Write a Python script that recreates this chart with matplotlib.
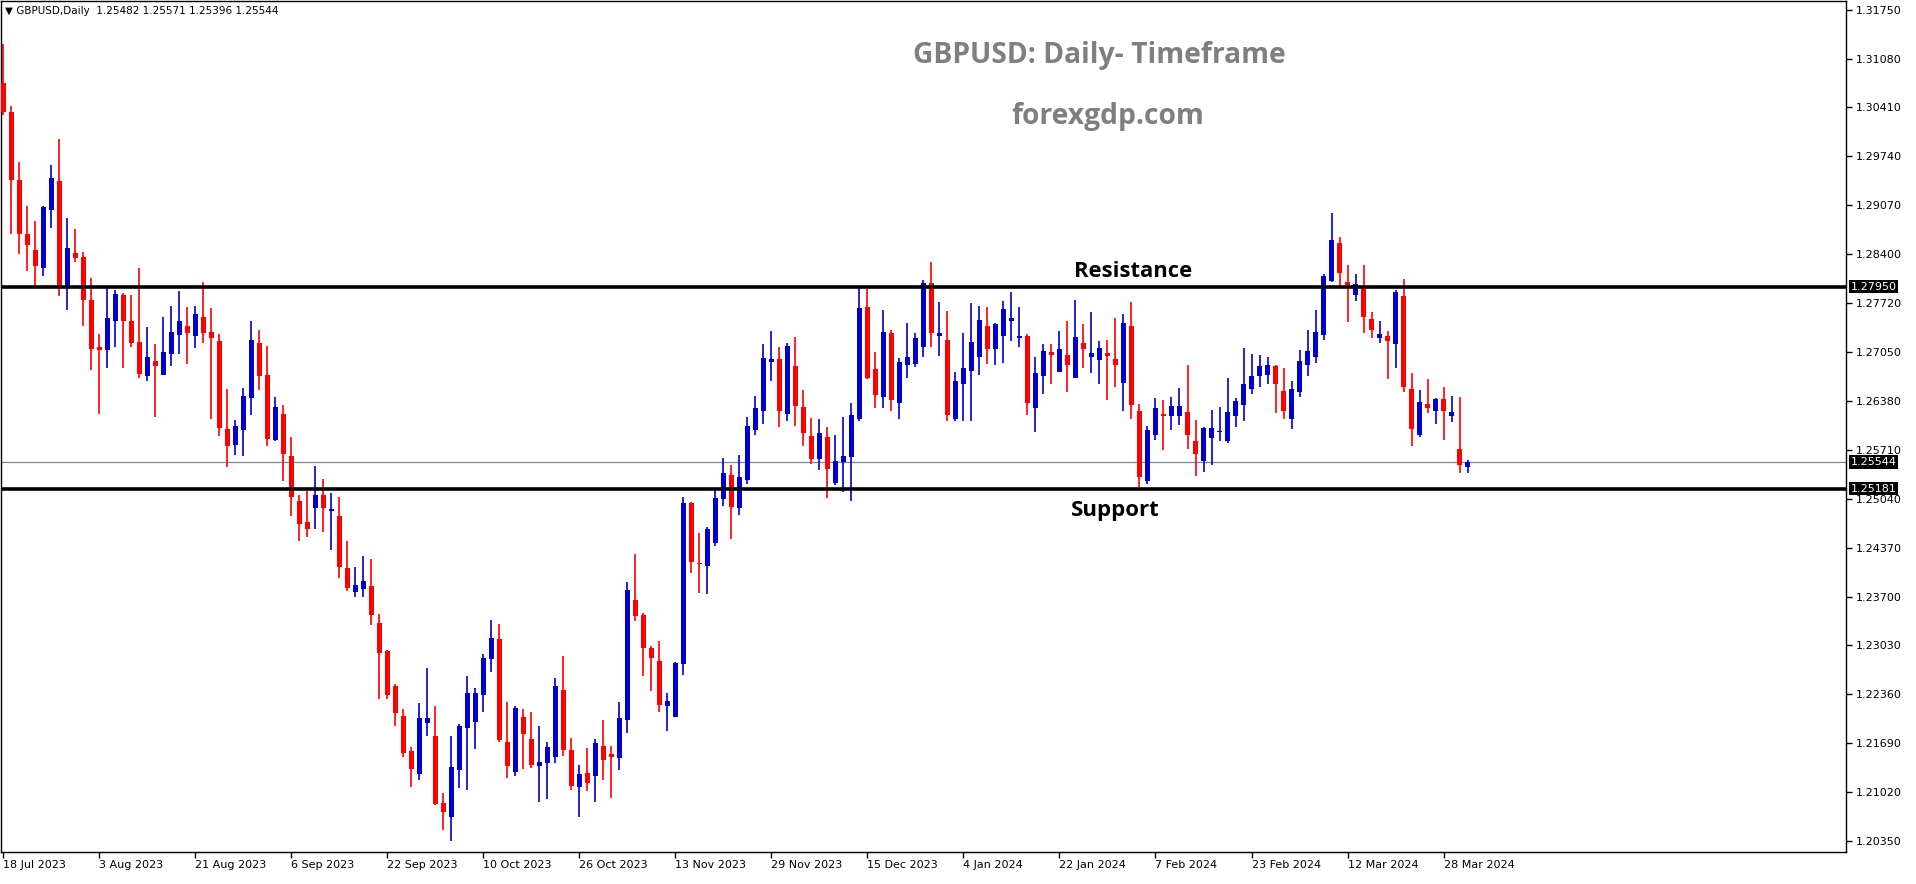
import numpy as np
import matplotlib.pyplot as plt

# --- GBPUSD daily candles (bar 0 = 18 Jul 2023) ---
opens = [1.3075, 1.3035, 1.2941, 1.2867, 1.2845, 1.2821, 1.2900, 1.2940, 1.2796, 1.2841,
         1.2836, 1.2777, 1.2712, 1.2708, 1.2748, 1.2784, 1.2748, 1.2719, 1.2672, 1.2693,
         1.2674, 1.2703, 1.2729, 1.2741, 1.2728, 1.2754, 1.2733, 1.2721, 1.2600, 1.2578,
         1.2598, 1.2642, 1.2718, 1.2674, 1.2585, 1.2621, 1.2563, 1.2501, 1.2472, 1.2491,
         1.2509, 1.2487, 1.2481, 1.2409, 1.2376, 1.2380, 1.2385, 1.2334, 1.2295, 1.2247,
         1.2206, 1.2158, 1.2126, 1.2196, 1.2179, 1.2087, 1.2067, 1.2132, 1.2189, 1.2198,
         1.2235, 1.2284, 1.2312, 1.2170, 1.2129, 1.2205, 1.2175, 1.2137, 1.2142, 1.2150,
         1.2242, 1.2159, 1.2109, 1.2128, 1.2124, 1.2165, 1.2154, 1.2149, 1.2200, 1.2365,
         1.2345, 1.2300, 1.2281, 1.2220, 1.2205, 1.2278, 1.2498, 1.2416, 1.2412, 1.2443,
         1.2504, 1.2537, 1.2491, 1.2530, 1.2598, 1.2625, 1.2692, 1.2696, 1.2621, 1.2686,
         1.2630, 1.2590, 1.2558, 1.2589, 1.2526, 1.2554, 1.2562, 1.2614, 1.2767, 1.2682,
         1.2644, 1.2732, 1.2636, 1.2688, 1.2689, 1.2713, 1.2800, 1.2727, 1.2722, 1.2614,
         1.2662, 1.2680, 1.2698, 1.2741, 1.2709, 1.2727, 1.2748, 1.2725, 1.2728, 1.2628,
         1.2672, 1.2706, 1.2678, 1.2701, 1.2670, 1.2718, 1.2698, 1.2695, 1.2704, 1.2696,
         1.2663, 1.2741, 1.2624, 1.2528, 1.2592, 1.2620, 1.2617, 1.2617, 1.2623, 1.2583,
         1.2556, 1.2588, 1.2596, 1.2584, 1.2617, 1.2633, 1.2655, 1.2673, 1.2674, 1.2686,
         1.2652, 1.2613, 1.2650, 1.2687, 1.2698, 1.2729, 1.2803, 1.2855, 1.2802, 1.2783,
         1.2795, 1.2751, 1.2725, 1.2727, 1.2717, 1.2782, 1.2655, 1.2591, 1.2634, 1.2624,
         1.2641, 1.2618, 1.2572, 1.25482]
highs = [1.3128, 1.3043, 1.2966, 1.2906, 1.2885, 1.2906, 1.2962, 1.2998, 1.2889, 1.2874,
         1.2843, 1.2807, 1.2730, 1.2795, 1.2790, 1.2786, 1.2784, 1.2821, 1.2740, 1.2716,
         1.2754, 1.2769, 1.2789, 1.2767, 1.2769, 1.2801, 1.2766, 1.2730, 1.2655, 1.2612,
         1.2656, 1.2748, 1.2736, 1.2714, 1.2644, 1.2633, 1.2589, 1.2509, 1.2515, 1.2549,
         1.2531, 1.2512, 1.2507, 1.2446, 1.2411, 1.2426, 1.2422, 1.2346, 1.2297, 1.2250,
         1.2216, 1.2164, 1.2224, 1.2272, 1.2220, 1.2100, 1.2178, 1.2195, 1.2261, 1.2245,
         1.2291, 1.2338, 1.2332, 1.2225, 1.2220, 1.2216, 1.2211, 1.2192, 1.2170, 1.2258,
         1.2288, 1.2176, 1.2139, 1.2162, 1.2175, 1.2201, 1.2165, 1.2225, 1.2390, 1.2428,
         1.2348, 1.2302, 1.2309, 1.2238, 1.2280, 1.2506, 1.2500, 1.2457, 1.2465, 1.2516,
         1.2560, 1.2550, 1.2564, 1.2616, 1.2645, 1.2716, 1.2734, 1.2712, 1.2718, 1.2726,
         1.2653, 1.2615, 1.2614, 1.2603, 1.2592, 1.2616, 1.2636, 1.2794, 1.2792, 1.2706,
         1.2763, 1.2736, 1.2697, 1.2745, 1.2732, 1.2804, 1.2829, 1.2774, 1.2762, 1.2678,
         1.2732, 1.2773, 1.2769, 1.2767, 1.2745, 1.2775, 1.2788, 1.2767, 1.2730, 1.2698,
         1.2717, 1.2717, 1.2734, 1.2748, 1.2777, 1.2744, 1.2760, 1.2721, 1.2722, 1.2752,
         1.2758, 1.2774, 1.2634, 1.2604, 1.2642, 1.2640, 1.2644, 1.2656, 1.2688, 1.2612,
         1.2603, 1.2626, 1.2630, 1.2670, 1.2642, 1.2711, 1.2703, 1.2701, 1.2699, 1.2688,
         1.2684, 1.2666, 1.2708, 1.2736, 1.2763, 1.2813, 1.2896, 1.2863, 1.2825, 1.2813,
         1.2825, 1.2760, 1.2748, 1.2734, 1.2790, 1.2806, 1.2677, 1.2654, 1.2668, 1.2643,
         1.2657, 1.2645, 1.2644, 1.25571]
lows = [1.3030, 1.2867, 1.2840, 1.2817, 1.2796, 1.2810, 1.2876, 1.2782, 1.2763, 1.2829,
        1.2741, 1.2681, 1.2620, 1.2684, 1.2712, 1.2684, 1.2712, 1.2670, 1.2666, 1.2616,
        1.2674, 1.2686, 1.2703, 1.2689, 1.2711, 1.2718, 1.2614, 1.2590, 1.2548, 1.2564,
        1.2563, 1.2619, 1.2653, 1.2577, 1.2584, 1.2528, 1.2481, 1.2446, 1.2451, 1.2462,
        1.2459, 1.2434, 1.2396, 1.2378, 1.2370, 1.2370, 1.2331, 1.2229, 1.2229, 1.2193,
        1.2150, 1.2109, 1.2118, 1.2179, 1.2084, 1.2050, 1.2035, 1.2107, 1.2105, 1.2161,
        1.2211, 1.2267, 1.2170, 1.2121, 1.2124, 1.2133, 1.2135, 1.2088, 1.2092, 1.2142,
        1.2151, 1.2105, 1.2067, 1.2103, 1.2088, 1.2118, 1.2094, 1.2132, 1.2183, 1.2337,
        1.2261, 1.2241, 1.2212, 1.2186, 1.2205, 1.2262, 1.2402, 1.2375, 1.2374, 1.2439,
        1.2494, 1.2449, 1.2482, 1.2525, 1.2591, 1.2607, 1.2665, 1.2603, 1.2611, 1.2604,
        1.2577, 1.2552, 1.2544, 1.2505, 1.2523, 1.2514, 1.2501, 1.2611, 1.2669, 1.2629,
        1.2629, 1.2625, 1.2613, 1.2670, 1.2685, 1.2699, 1.2713, 1.2700, 1.2611, 1.2611,
        1.2611, 1.2611, 1.2674, 1.2689, 1.2687, 1.2691, 1.2720, 1.2713, 1.2619, 1.2596,
        1.2648, 1.2662, 1.2678, 1.2650, 1.2670, 1.2683, 1.2676, 1.2662, 1.2640, 1.2658,
        1.2625, 1.2614, 1.2520, 1.2525, 1.2585, 1.2571, 1.2598, 1.2605, 1.2572, 1.2536,
        1.2541, 1.2551, 1.2584, 1.2580, 1.2603, 1.2611, 1.2648, 1.2657, 1.2661, 1.2622,
        1.2613, 1.2600, 1.2644, 1.2672, 1.2691, 1.2722, 1.2802, 1.2798, 1.2747, 1.2775,
        1.2731, 1.2725, 1.2718, 1.2668, 1.2684, 1.2651, 1.2576, 1.2589, 1.2622, 1.2606,
        1.2585, 1.2610, 1.2540, 1.25396]
closes = [1.3035, 1.2941, 1.2867, 1.2852, 1.2824, 1.2904, 1.2944, 1.2796, 1.2848, 1.2834,
          1.2777, 1.2710, 1.2708, 1.2752, 1.2785, 1.2748, 1.2718, 1.2675, 1.2699, 1.2686,
          1.2705, 1.2733, 1.2748, 1.2731, 1.2758, 1.2731, 1.2725, 1.2601, 1.2577, 1.2604,
          1.2645, 1.2722, 1.2673, 1.2586, 1.2630, 1.2566, 1.2506, 1.2470, 1.2462, 1.2509,
          1.2492, 1.2490, 1.2410, 1.2382, 1.2386, 1.2391, 1.2344, 1.2293, 1.2235, 1.2210,
          1.2156, 1.2134, 1.2204, 1.2204, 1.2085, 1.2075, 1.2136, 1.2193, 1.2238, 1.2238,
          1.2286, 1.2313, 1.2173, 1.2137, 1.2217, 1.2182, 1.2139, 1.2143, 1.2163, 1.2247,
          1.2159, 1.2110, 1.2127, 1.2114, 1.2169, 1.2146, 1.2150, 1.2204, 1.2379, 1.2343,
          1.2299, 1.2285, 1.2221, 1.2227, 1.2279, 1.2498, 1.2417, 1.2414, 1.2463, 1.2505,
          1.2540, 1.2493, 1.2534, 1.2604, 1.2629, 1.2697, 1.2696, 1.2624, 1.2714, 1.2632,
          1.2595, 1.2559, 1.2594, 1.2545, 1.2556, 1.2563, 1.2619, 1.2766, 1.2670, 1.2647,
          1.2733, 1.2639, 1.2692, 1.2699, 1.2725, 1.2800, 1.2731, 1.2732, 1.2619, 1.2666,
          1.2684, 1.2719, 1.2749, 1.2710, 1.2744, 1.2765, 1.2752, 1.2727, 1.2636, 1.2677,
          1.2707, 1.2702, 1.2710, 1.2687, 1.2726, 1.2709, 1.2704, 1.2711, 1.2700, 1.2687,
          1.2745, 1.2633, 1.2534, 1.2598, 1.2628, 1.2617, 1.2631, 1.2631, 1.2592, 1.2566,
          1.2601, 1.2601, 1.2597, 1.2623, 1.2638, 1.2662, 1.2673, 1.2686, 1.2688, 1.2661,
          1.2625, 1.2655, 1.2693, 1.2707, 1.2733, 1.2810, 1.2859, 1.2814, 1.2798, 1.2799,
          1.2754, 1.2735, 1.2730, 1.2721, 1.2788, 1.2658, 1.2600, 1.2637, 1.2628, 1.2641,
          1.2624, 1.2623, 1.2551, 1.25544]

date_ticks = [0, 12, 24, 36, 48, 60, 72, 84, 96, 108, 120, 132, 144, 156, 168, 180]
date_labels = ['18 Jul 2023', '3 Aug 2023', '21 Aug 2023', '6 Sep 2023', '22 Sep 2023',
               '10 Oct 2023', '26 Oct 2023', '13 Nov 2023', '29 Nov 2023', '15 Dec 2023',
               '4 Jan 2024', '22 Jan 2024', '7 Feb 2024', '23 Feb 2024', '12 Mar 2024',
               '28 Mar 2024']
price_ticks = [1.20350, 1.21020, 1.21690, 1.22360, 1.23030, 1.23700, 1.24370, 1.25040,
               1.25710, 1.26380, 1.27050, 1.27720, 1.28400, 1.29070, 1.29740, 1.30410,
               1.31080, 1.31750]
resistance = 1.27950
support = 1.25181
last_price = 1.25544

# --- colours ---
bull = '#0000CC'
bear = '#FF0000'
grid_gray = '#778899'
title_gray = '#7F7F7F'

o = np.array(opens)
h = np.array(highs)
l = np.array(lows)
c = np.array(closes)
x = np.arange(len(o))
up = c >= o
cols = np.where(up, bull, bear)

fig = plt.figure(figsize=(19.16, 8.84), dpi=100)
ax = fig.add_axes([1/1916, 32/884, 1845/1916, 851/884])

# wicks then bodies
ax.vlines(x, l, h, colors=cols, linewidth=1.2, zorder=2)
body_low = np.minimum(o, c)
body_h = np.maximum(np.abs(c - o), 0.00008)
ax.bar(x, body_h, bottom=body_low, width=0.62, color=cols, linewidth=0, zorder=3)

# support / resistance and current price
ax.axhline(resistance, color='black', linewidth=2.6, zorder=4)
ax.axhline(support, color='black', linewidth=2.6, zorder=4)
ax.axhline(last_price, color=grid_gray, linewidth=0.9, zorder=1)

ax.text(141.2, resistance + 0.0006, 'Resistance', fontsize=15.8, fontweight='bold',
        family='Open Sans', ha='center', va='bottom', zorder=5)
ax.text(139.0, support - 0.0016, 'Support', fontsize=16, fontweight='bold',
        family='Open Sans', ha='center', va='top', zorder=5)

ax.text(137, 1.3112, 'GBPUSD: Daily- Timeframe', fontsize=20.3, fontweight='bold',
        family='Open Sans', color=title_gray, ha='center', va='center')
ax.text(138, 1.3029, 'forexgdp.com', fontsize=20.3, fontweight='bold',
        family='Open Sans', color=title_gray, ha='center', va='center')

ax.set_xlim(-0.29, 230.3)
ax.set_ylim(1.20195, 1.31870)

# x axis: dates, labels start at the tick
ax.set_xticks(date_ticks)
ax.set_xticklabels(date_labels, fontsize=8)
for lbl in ax.get_xticklabels():
    lbl.set_horizontalalignment('left')
ax.tick_params(axis='x', direction='out', length=4, width=1, pad=2)

# y axis on the right
ax.yaxis.tick_right()
ax.set_yticks(price_ticks)
ax.set_yticklabels([f'{v:.5f}' for v in price_ticks], fontsize=8)
ax.tick_params(axis='y', direction='out', length=4, width=1, pad=3)

for s in ax.spines.values():
    s.set_linewidth(1)

# black price boxes on the right scale
for v in [resistance, last_price, support]:
    ax.text(1.0025, v, f'{v:.5f}', transform=ax.get_yaxis_transform(), fontsize=8,
            color='white', ha='left', va='center', zorder=6,
            bbox=dict(facecolor='black', edgecolor='none', pad=1.2))

fig.text(5/1916, 1 - 11/884, '\u25bc GBPUSD,Daily  1.25482 1.25571 1.25396 1.25544',
         fontsize=7.5, va='center', ha='left')

fig.savefig('out.png', dpi=100, facecolor='white')
